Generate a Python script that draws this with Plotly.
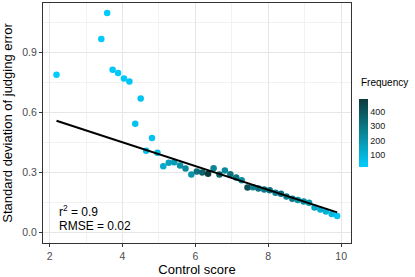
import plotly.graph_objects as go

control_score = [2.19, 3.42, 3.58, 3.73, 3.88, 4.04, 4.19, 4.35, 4.50, 4.65, 4.81,
                 4.96, 5.12, 5.27, 5.42, 5.58, 5.73, 5.89, 6.04, 6.19, 6.35, 6.50,
                 6.66, 6.81, 6.96, 7.12, 7.27, 7.43, 7.58, 7.73, 7.89, 8.04, 8.20,
                 8.35, 8.50, 8.66, 8.81, 8.97, 9.12, 9.27, 9.43, 9.58, 9.74, 9.89]
sd_error = [0.788, 0.967, 1.097, 0.813, 0.797, 0.770, 0.755, 0.543, 0.670, 0.408, 0.472,
            0.398, 0.331, 0.348, 0.351, 0.335, 0.320, 0.290, 0.305, 0.299, 0.293, 0.321,
            0.290, 0.310, 0.291, 0.275, 0.261, 0.225, 0.226, 0.220, 0.215, 0.211, 0.198,
            0.193, 0.180, 0.168, 0.162, 0.155, 0.148, 0.125, 0.115, 0.105, 0.092, 0.082]
frequency = [16, 22, 20, 28, 30, 33, 38, 48, 44, 60, 50,
             85, 130, 160, 180, 210, 240, 200, 320, 360, 490, 260,
             370, 240, 320, 300, 220, 420, 270, 310, 290, 310, 260,
             330, 280, 300, 210, 230, 200, 150, 130, 110, 80, 40]
fit_x = [2.19, 9.89]
fit_y = [0.558, 0.100]
x_ticks = [2, 4, 6, 8, 10]
y_ticks = [0.0, 0.3, 0.6, 0.9]
cbar_ticks = [100, 200, 300, 400]

font = "Liberation Sans"
fig = go.Figure()
fig.add_trace(go.Scatter(
    x=control_score, y=sd_error, mode="markers",
    marker=dict(size=6.5, color=frequency, cmin=min(frequency), cmax=max(frequency),
                colorscale=[[0, "#00ccff"], [0.5, "#0a8595"], [1, "#0c3a3b"]],
                line=dict(width=0),
                colorbar=dict(thickness=9, len=68, lenmode="pixels", x=1 + 8/308, xanchor="left",
                              xpad=0, ypad=0, y=(243 - 133) / 240, yanchor="middle", outlinewidth=0,
                              tickvals=cbar_ticks, ticks="", ticklabelposition="outside",
                              tickfont=dict(family=font, size=9, color="#1a1a1a"))),
    showlegend=False))
fig.add_trace(go.Scatter(x=fit_x, y=fit_y, mode="lines",
                         line=dict(color="black", width=2), showlegend=False))

axis_common = dict(showline=True, mirror=True, linecolor="#333333", linewidth=1.2,
                   gridcolor="#e6e6e6", gridwidth=1, zeroline=False, automargin=False,
                   ticks="outside", ticklen=3, tickcolor="#333333",
                   tickfont=dict(family=font, size=10.5, color="#4d4d4d"),
                   minor=dict(showgrid=True, gridcolor="#f2f2f2", gridwidth=0.6))
fig.update_xaxes(range=[1.82, 10.27], tickvals=x_ticks,
                 title=dict(text="Control score", font=dict(family=font, size=13, color="black")),
                 **axis_common)
fig.update_yaxes(range=[-0.053, 1.147], tickvals=y_ticks, tickformat=".1f",
                 title=dict(text="Standard deviation of judging error",
                            font=dict(family=font, size=13, color="black")),
                 **axis_common)
fig.update_xaxes(minor=dict(tickvals=[3, 5, 7, 9], ticks=""))
fig.update_yaxes(minor=dict(tickvals=[0.15, 0.45, 0.75, 1.05], ticks=""))

fig.add_annotation(x=2.2, y=0.105, xref="x", yref="y", xanchor="left", yanchor="middle",
                   text="r<sup>2</sup> = 0.9", showarrow=False,
                   font=dict(family=font, size=12, color="black"))
fig.add_annotation(x=2.2, y=0.033, xref="x", yref="y", xanchor="left", yanchor="middle",
                   text="RMSE = 0.02", showarrow=False,
                   font=dict(family=font, size=12, color="black"))
fig.add_annotation(x=1 + 8/308, y=(243 - 82) / 240, xref="paper", yref="paper",
                   text="Frequency", showarrow=False,
                   font=dict(family=font, size=10, color="black"), xanchor="left", yanchor="middle")

fig.update_layout(width=415, height=277, margin=dict(l=43, r=64, t=3, b=34),
                  plot_bgcolor="white", paper_bgcolor="white")
fig.write_html("out.html", config={"displayModeBar": False},
               post_script="document.body.style.margin='0';document.body.style.overflow='hidden';")
